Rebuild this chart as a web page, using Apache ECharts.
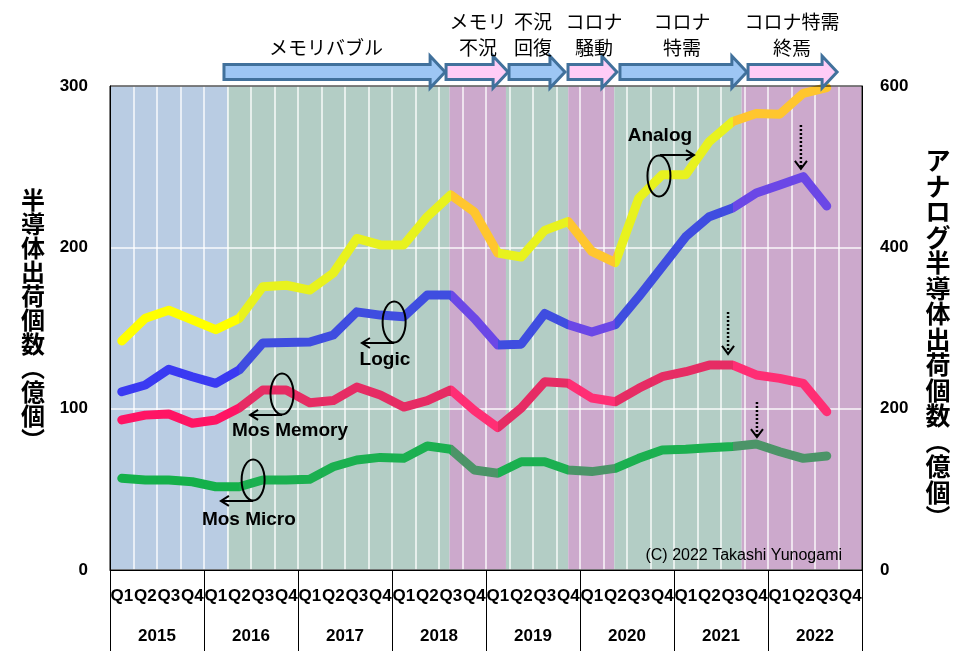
<!DOCTYPE html>
<html><head><meta charset="utf-8">
<script src="https://cdn.jsdelivr.net/npm/echarts@6/dist/echarts.min.js"></script>
<style>html,body{margin:0;padding:0;background:#fff}#c{width:963px;height:651px}</style>
</head><body><div id="c"></div><script>
// ---- data ----
const quarterLabels = ['Q1','Q2','Q3','Q4','Q1','Q2','Q3','Q4','Q1','Q2','Q3','Q4','Q1','Q2','Q3','Q4',
  'Q1','Q2','Q3','Q4','Q1','Q2','Q3','Q4','Q1','Q2','Q3','Q4','Q1','Q2','Q3','Q4'];
const yearLabels = ['2015','2016','2017','2018','2019','2020','2021','2022'];
// 2015Q1 .. 2022Q3 (left axis, 億個)
const logic = [110.5,114.7,124.4,119.8,115.7,124,140.7,141,141.3,145.7,160,158,157,170.5,170.5,156,
  139.5,140,159,152,147.5,152,169.4,188,206.6,219,224.4,233.7,238.7,243.8,225.6];
const mosMemory = [93,96,96.7,91,93,100.4,111.6,111.6,103.7,105,113.4,108.5,101,105,111.6,99,
  88.3,100.4,116.7,115.7,106.6,104.3,112.6,119.8,122.9,127,127,120.9,118.8,115.7,98.1];
const mosMicro = [56.8,55.8,55.8,54.7,51.6,51.6,55.8,55.8,56.2,64,68.2,69.8,69.2,76.9,74.8,62,
  60,67.1,67.1,62,61,63,69.2,74.4,74.8,75.8,76.5,78.1,73.3,69.2,70.7];
// right axis
const analog = [284,312,322,310,298,312,351,353,347,368,411,403,403,438,465,444,
  393,388,421,432,395,381,461,490,490,531,556,566,565,591,598];
const leftTicks = [0,100,200,300];
const rightTicks = [0,200,400,600];
// phase bands in quarter units (0 = start of 2015Q1)
const bandEdges = [0,5,14.45,16.85,19.5,21.46,26.88,32];
const bandKinds = ['blue','green','pink','green','pink','green','pink'];
// phase arrows (quarter units)
const phaseStart = [4.85,14.3,16.98,19.49,21.7,27.15];
const phaseEnd = [14.26,16.94,19.36,21.57,27.1,30.94];
const phaseKind = ['blue','pink','blue','pink','blue','pink'];
const phaseText = ['メモリバブル','メモリ\n不況','不況\n回復','コロナ\n騒動','コロナ\n特需','コロナ特需\n終焉'];
const phaseTextPos = [9.19,15.66,18.0,20.6,24.34,29.02];

// ---- styles ----
const bandColor = {blue:'#B9CCE3', green:'#B3CDC5', pink:'#CCA9CC'};
const lineColors = {
  analog: {blue:'#FFFF00', green:'#E8F21E', pink:'#FFC62E'},
  logic: {blue:'#3A3AF2', green:'#3F4DE0', pink:'#6B47E6'},
  memory: {blue:'#FF1464', green:'#E62C64', pink:'#FF2E74'},
  micro: {blue:'#14B04A', green:'#1BB050', pink:'#4C9468'}
};
const LAT = "'Liberation Sans', Arial, sans-serif";
const JP = "'Noto Sans CJK JP', sans-serif";

function pieces(key){
  const p = [];
  for (let i = 0; i < bandKinds.length; i++) {
    p.push({gte: bandEdges[i] - 0.5 - (i===0?1:0), lt: bandEdges[i+1] - 0.5 + (i===bandKinds.length-1?1:0),
      color: lineColors[key][bandKinds[i]]});
  }
  return p;
}
function lineSeries(name, data, yIdx, key){
  return {name, type:'line', data, xAxisIndex:0, yAxisIndex:yIdx, showSymbol:false, symbol:'none',
    z:4, clip:false, silent:true,
    lineStyle:{width:9, cap:'round', join:'round'}};
}

const chart = echarts.init(document.getElementById('c'), null, {renderer:'canvas'});
const option = {
  animation:false,
  backgroundColor:'#fff',
  grid:{left:110, right:101, top:86, bottom:81, show:true, borderColor:'#000', borderWidth:1,
    backgroundColor:'transparent', z:10},
  xAxis:[
    {type:'category', data:quarterLabels, boundaryGap:true, position:'bottom', z:3,
     axisLine:{show:true, lineStyle:{color:'#000', width:1}}, axisTick:{show:false},
     axisLabel:{interval:0, margin:18, color:'#000', fontFamily:LAT, fontWeight:'bold', fontSize:17},
     splitLine:{show:true, interval:0, lineStyle:{color:'rgba(255,255,255,0.9)', width:1.5}}},
    {type:'category', data:yearLabels, boundaryGap:true, position:'bottom', z:3,
     axisLine:{show:false}, axisTick:{show:true, interval:0, length:81, lineStyle:{color:'#000', width:1}},
     axisLabel:{interval:0, margin:58, color:'#000', fontFamily:LAT, fontWeight:'bold', fontSize:17},
     splitLine:{show:false}},
    {type:'value', min:0, max:32, show:false}
  ],
  yAxis:[
    {type:'value', min:leftTicks[0], max:leftTicks[leftTicks.length-1], interval:100, position:'left', z:3,
     axisLine:{show:true, lineStyle:{color:'#000'}}, axisTick:{show:false},
     axisLabel:{margin:22, color:'#000', fontFamily:LAT, fontWeight:'bold', fontSize:17},
     splitLine:{show:true, lineStyle:{color:'rgba(255,255,255,0.9)', width:1.5}}},
    {type:'value', min:rightTicks[0], max:rightTicks[rightTicks.length-1], interval:200, position:'right', z:3,
     axisLine:{show:true, lineStyle:{color:'#000'}}, axisTick:{show:false},
     axisLabel:{margin:18, color:'#000', fontFamily:LAT, fontWeight:'bold', fontSize:17},
     splitLine:{show:false}}
  ],
  visualMap:[
    {type:'piecewise', show:false, dimension:0, seriesIndex:1, pieces:pieces('analog')},
    {type:'piecewise', show:false, dimension:0, seriesIndex:2, pieces:pieces('logic')},
    {type:'piecewise', show:false, dimension:0, seriesIndex:3, pieces:pieces('memory')},
    {type:'piecewise', show:false, dimension:0, seriesIndex:4, pieces:pieces('micro')}
  ],
  series:[
    {type:'line', xAxisIndex:2, yAxisIndex:0, data:[[0,0]], symbol:'none', silent:true, z:1,
     lineStyle:{width:0, opacity:0},
     markArea:{silent:true, z:1, data: bandKinds.map((k,i)=>[
       {xAxis:bandEdges[i], itemStyle:{color:bandColor[k], opacity:1}}, {xAxis:bandEdges[i+1]}])}},
    lineSeries('Analog', analog, 1, 'analog'),
    lineSeries('Logic', logic, 0, 'logic'),
    lineSeries('Mos Memory', mosMemory, 0, 'memory'),
    lineSeries('Mos Micro', mosMicro, 0, 'micro')
  ]
};
chart.setOption(option);

// ---- annotations positioned through the axes ----
const X = q => chart.convertToPixel({xAxisIndex:2}, q);
const Y = v => chart.convertToPixel({yAxisIndex:0}, v);
const g = [];
const topY = Y(300);
const yc = topY - 14;
phaseStart.forEach((s,i)=>{
  const x0 = X(s), x1 = X(phaseEnd[i]);
  const hl = 15, bh = 7.5, hh = 16;
  g.push({type:'polygon', z:20, shape:{points:[[x0,yc-bh],[x1-hl,yc-bh],[x1-hl,yc-hh],[x1,yc],[x1-hl,yc+hh],[x1-hl,yc+bh],[x0,yc+bh]]},
    style:{fill: phaseKind[i]==='blue' ? '#9DC6F4' : '#FFCCF6', stroke:'#41719C', lineWidth:3, lineJoin:'miter'}});
  g.push({type:'text', z:20, style:{text:phaseText[i], x:X(phaseTextPos[i]), y:yc-11, align:'center', verticalAlign:'bottom',
    font:'19px '+JP, lineHeight:26, fill:'#000'}});
});
// axis titles
g.push({type:'text', z:20, style:{text:'半\n導\n体\n出\n荷\n個\n数\n︵\n億\n個\n︶', x:33, y:Y(155), align:'center', verticalAlign:'middle',
  font:'bold 24px '+JP, lineHeight:24, fill:'#000'}});
g.push({type:'text', z:20, style:{text:'ア\nナ\nロ\nグ\n半\n導\n体\n出\n荷\n個\n数\n︵\n億\n個\n︶', x:938, y:Y(143), align:'center', verticalAlign:'middle',
  font:'bold 25px '+JP, lineHeight:25.5, fill:'#000'}});
// series annotations: [text, textQ, textV, ellQ, ellV, arrowV, arrowFromQ, arrowToQ]
const notes = [
  ['Analog', 23.40, 269.0, 23.36, 244.2, 257.2, 23.40, 24.85],
  ['Logic', 11.70, 130.2, 12.09, 153.7, 140.7, 12.09, 10.72],
  ['Mos Memory', 7.66, 86.2, 7.32, 109.1, 96.1, 7.32, 5.96],
  ['Mos Micro', 5.91, 31.0, 6.09, 55.8, 42.8, 6.09, 4.72]
];
notes.forEach(n=>{
  g.push({type:'text', z:20, style:{text:n[0], x:X(n[1]), y:Y(n[2]), align:'center', verticalAlign:'middle',
    font:'bold 19px '+LAT, fill:'#000'}});
  g.push({type:'ellipse', z:20, shape:{cx:X(n[3]), cy:Y(n[4]), rx:11.5, ry:20.5}, style:{fill:'none', stroke:'#000', lineWidth:2}});
  const ay = Y(n[5]), xa = X(n[6]), xb = X(n[7]);
  const dir = xb > xa ? 1 : -1;
  g.push({type:'line', z:20, shape:{x1:xa, y1:ay, x2:xb, y2:ay}, style:{stroke:'#000', lineWidth:2}});
  g.push({type:'polyline', z:20, shape:{points:[[xb-dir*8,ay-5],[xb,ay],[xb-dir*8,ay+5]]}, style:{stroke:'#000', lineWidth:2, fill:'none'}});
});
// dotted peak arrows: [q, fromV, toV]
const peaks = [[29.40, 275.8, 248.6],[26.30, 159.9, 133.9],[27.53, 104.1, 82.4]];
peaks.forEach(p=>{
  const x = X(p[0]), y1 = Y(p[1]), y2 = Y(p[2]);
  g.push({type:'line', z:20, shape:{x1:x, y1:y1, x2:x, y2:y2-1}, style:{stroke:'#000', lineWidth:2.5, lineDash:[2,2]}});
  g.push({type:'polyline', z:20, shape:{points:[[x-6,y2-8],[x,y2],[x+6,y2-8]]}, style:{stroke:'#000', lineWidth:2, fill:'none'}});
});
g.push({type:'text', z:20, style:{text:'(C) 2022 Takashi Yunogami', x:X(31.15), y:Y(8.7), align:'right', verticalAlign:'middle',
  font:'16px '+LAT, fill:'#000'}});
chart.setOption({graphic:g});
</script></body></html>
